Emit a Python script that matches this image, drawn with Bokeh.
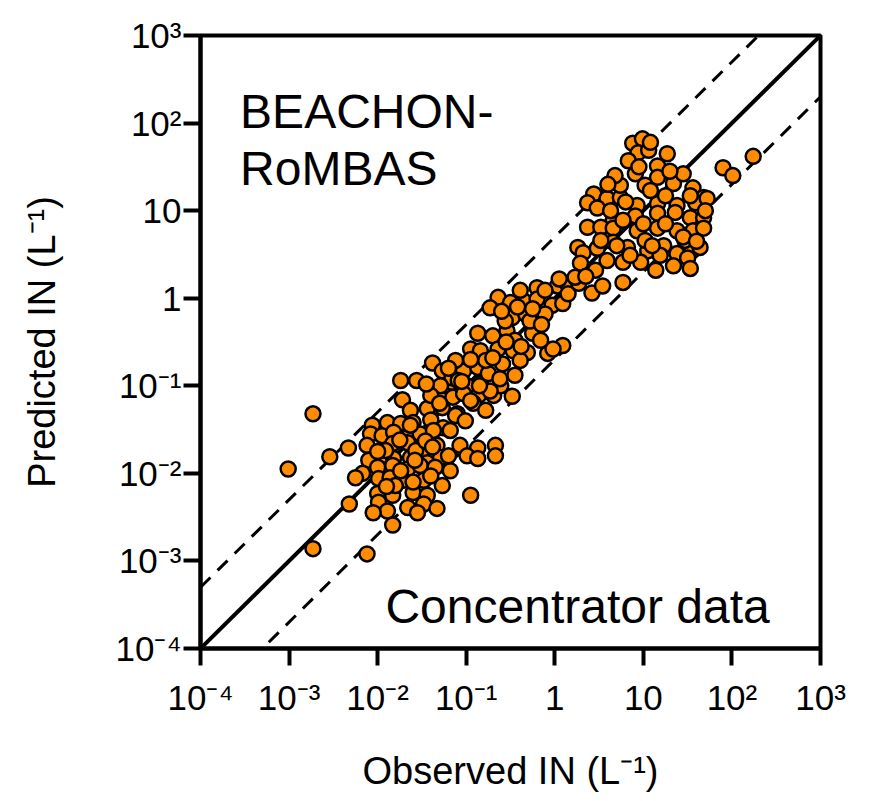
import numpy as np
from bokeh.plotting import figure
from bokeh.models import Range1d, FixedTicker, Label
from bokeh.embed import file_html
from bokeh.resources import INLINE

# log10 of observed and predicted IN concentrations (L^-1)
obs_log10 = [
    -1.16, -0.99, -0.84, -1.72, -1.29, -1.15, -1.03, -0.86, -0.69, -2.73,
    -1.63, -1.44, -1.27, -1.10, -0.92, -2.06, -1.89, -1.74, -1.60, -1.40,
    -1.26, -1.12, -2.08, -1.95, -1.82, -1.66, -1.52, -1.37, -2.33, -2.12,
    -1.83, -1.66, -1.48, -1.33, -1.07, -0.87, -0.67, -2.54, -2.10, -1.95,
    -1.82, -1.63, -1.44, -1.29, -0.99, -0.87, -0.67, -3.01, -2.17, -2.00,
    -1.83, -1.66, -1.52, -1.35, -2.25, -1.99, -1.86, -1.71, -1.48, -1.27,
    -2.00, -1.83, -1.60, -1.44, -0.95, -2.32, -1.99, -1.89, -1.66, -1.48,
    -1.33, -1.83, -2.73, -2.12,
    -0.20, 0.03, -0.64, -0.50, -0.35, -0.20, -0.03, 0.09, -0.73, -0.48,
    -0.33, -0.11, -0.87, -0.70, -0.54, -0.45, -0.25, -0.95, -0.64, -0.47,
    -0.31, -0.08, 0.09, -0.02, -1.38, -1.27, -1.16, -1.03, -0.87, -0.75,
    -0.59, -1.74, -1.56, -1.09, -0.48,
    0.88, 0.99, 0.94, 1.06, 1.08, 1.27, 1.16, 1.90, 2.01, 2.24,
    0.91, 1.16, 1.34, 1.45, 1.56, 1.68, 0.44, 0.59, 0.74, 0.93,
    1.16, 1.38, 1.59, 1.72, 0.37, 0.48, 0.66, 0.91, 1.16, 1.36,
    1.53, 1.68, 0.37, 0.52, 0.66, 0.77, 0.93, 1.16, 1.38, 1.56,
    1.68, 0.26, 0.32, 0.48, 0.66, 0.82, 1.05, 1.23, 1.38, 1.55,
    1.64, 0.29, 0.46, 0.59, 0.77, 0.97, 1.19, 1.34, 1.50, 0.14,
    0.27, 0.42, 0.54, 0.77, 0.23, 1.02, 0.74, 1.25, 0.63, 1.02,
    1.47, 0.85, 1.14, 0.52, 1.53, 1.70, 0.68, 1.08, 1.53, 0.83,
    -1.91, -1.74, -1.57, -1.40, -1.18, -1.80, -1.63, -1.46, -1.18, -1.01,
    -0.78, -0.61, -0.73, -0.39, -0.16, -0.28, -0.56, -0.84, -0.11, -0.39,
    -1.12, -1.29, -1.40, -0.78, -0.95, -0.45,
    -0.60, -0.42, -0.25, -0.15, -0.55, -0.38, -0.70, -0.95, -1.20, -1.05,
    -0.85, -0.62, -1.45, -1.30, 0.15, 0.35, 0.05,
    -1.75, -1.58, -1.38, -1.20, -2.00, -1.90, -1.60, -2.05, -1.55,
    0.60, 0.80, 1.00, 1.25, 1.45, 1.30, 0.95, 1.60, 0.70, 1.10,
]
pred_log10 = [
    -0.96, -1.00, -0.97, -1.16, -1.15, -1.13, -1.09, -1.11, -1.11, -1.32,
    -1.28, -1.26, -1.25, -1.32, -1.20, -1.45, -1.42, -1.43, -1.42, -1.39,
    -1.48, -1.34, -1.55, -1.57, -1.53, -1.59, -1.55, -1.51, -1.71, -1.68,
    -1.66, -1.65, -1.74, -1.68, -1.68, -1.71, -1.68, -1.81, -1.85, -1.80,
    -1.83, -1.82, -1.88, -1.82, -1.80, -1.83, -1.80, -1.95, -2.00, -1.93,
    -1.91, -1.95, -1.91, -1.93, -2.05, -2.06, -2.05, -2.08, -2.08, -2.14,
    -2.23, -2.25, -2.22, -2.25, -2.25, -2.35, -2.33, -2.43, -2.39, -2.35,
    -2.40, -2.59, -2.86, -2.92,
    0.12, 0.14, 0.01, -0.05, -0.03, -0.01, -0.08, -0.06, -0.11, -0.22,
    -0.18, -0.18, -0.40, -0.43, -0.37, -0.48, -0.40, -0.58, -0.58, -0.60,
    -0.62, -0.63, -0.54, -0.58, -0.74, -0.83, -0.91, -0.83, -0.79, -0.86,
    -0.75, -0.94, -0.94, -0.94, -1.12,
    1.77, 1.82, 1.66, 1.69, 1.78, 1.65, 1.51, 1.49, 1.40, 1.62,
    1.42, 1.38, 1.31, 1.42, 1.26, 1.15, 1.19, 1.14, 1.15, 1.06,
    1.08, 1.06, 1.09, 1.14, 1.09, 1.03, 0.89, 0.94, 0.97, 0.98,
    0.92, 0.92, 0.81, 0.81, 0.80, 0.89, 0.77, 0.80, 0.77, 0.77,
    0.80, 0.58, 0.52, 0.57, 0.64, 0.58, 0.54, 0.60, 0.51, 0.54,
    0.58, 0.40, 0.32, 0.43, 0.41, 0.41, 0.49, 0.37, 0.46, 0.17,
    0.17, 0.06, 0.14, 0.18, 0.24, 1.29, 1.29, 1.17, 1.00, 0.66,
    0.66, 0.49, 0.32, 0.66, 1.17, 1.00, 1.40, 1.23, 0.34, 1.57,
    -1.74, -1.97, -1.74, -2.03, -1.97, -2.14, -1.45, -1.63, -1.51, -1.40,
    -1.28, -1.00, -1.06, -0.71, -0.48, -0.26, -0.26, -0.60, 0.09, 0.09,
    -0.71, -1.00, -1.11, -0.71, -1.17, -0.88,
    -0.15, -0.10, -0.12, -0.30, -0.50, -0.55, -0.68, -0.70, -0.80, -0.95,
    -1.00, -0.92, -0.98, -1.20, 0.05, 0.25, 0.22,
    -1.62, -1.85, -1.70, -1.80, -1.75, -2.15, -2.10, -2.45, -2.45,
    1.30, 1.10, 0.85, 0.85, 0.70, 1.45, 1.50, 0.65, 0.60, 0.60,
]

observed = [10 ** v for v in obs_log10]
predicted = [10 ** v for v in pred_log10]

tick_values = [1e-4, 1e-3, 1e-2, 1e-1, 1.0, 10.0, 100.0, 1000.0]
tick_labels = ["10⁻⁴", "10⁻³", "10⁻²", "10⁻¹", "1", "10", "10²", "10³"]

ratio_factor = 5.0
ref_x = np.array([1e-4, 1e3])

FONT = "Liberation Sans"

p = figure(width=875, height=801, x_axis_type="log", y_axis_type="log",
           x_range=Range1d(1e-4, 1e3), y_range=Range1d(1e-4, 1e3),
           output_backend="svg", toolbar_location=None,
           min_border_left=200, min_border_right=55,
           min_border_top=35, min_border_bottom=153,
           background_fill_color="white", border_fill_color="white")

p.grid.visible = False
p.outline_line_color = "black"
p.outline_line_width = 4

for ax in (p.xaxis[0], p.yaxis[0]):
    ax.ticker = FixedTicker(ticks=tick_values, minor_ticks=[])
    ax.major_label_overrides = {v: l for v, l in zip(tick_values, tick_labels)}
    ax.axis_line_width = 4
    ax.axis_line_color = "black"
    ax.major_tick_line_width = 4
    ax.major_tick_line_color = "black"
    ax.major_tick_out = 17
    ax.major_tick_in = 0
    ax.minor_tick_line_color = None
    ax.major_label_text_font = FONT
    ax.major_label_text_font_size = "35px"
    ax.major_label_text_color = "black"
    ax.axis_label_text_font = FONT
    ax.axis_label_text_font_size = "38px"
    ax.axis_label_text_font_style = "normal"
    ax.axis_label_text_color = "black"

p.xaxis.axis_label = "Observed IN (L⁻¹)"
p.yaxis.axis_label = "Predicted IN (L⁻¹)"
p.xaxis.major_label_standoff = 12
p.yaxis.major_label_standoff = 2
p.xaxis.axis_label_standoff = 30
p.yaxis.axis_label_standoff = 50

# 1:1 line and factor-of-5 lines
p.line(ref_x, ref_x, line_color="black", line_width=4)
p.line(ref_x, ref_x * ratio_factor, line_color="black", line_width=3, line_dash="14 10")
p.line(ref_x, ref_x / ratio_factor, line_color="black", line_width=3, line_dash="14 10")

p.scatter(observed, predicted, size=15, fill_color="#FF8C00",
          line_color="black", line_width=2.5)

for txt, xx, yy in [("BEACHON-", 2.8e-4, 10 ** 2.13),
                    ("RoMBAS", 2.8e-4, 10 ** 1.48),
                    ("Concentrator data", 10 ** -1.912, 10 ** -3.52)]:
    p.add_layout(Label(x=xx, y=yy, text=txt, text_font=FONT,
                       text_font_size="48px", text_color="black",
                       text_baseline="alphabetic", text_align="left"))

open("out.html", "w").write(file_html(p, INLINE))
